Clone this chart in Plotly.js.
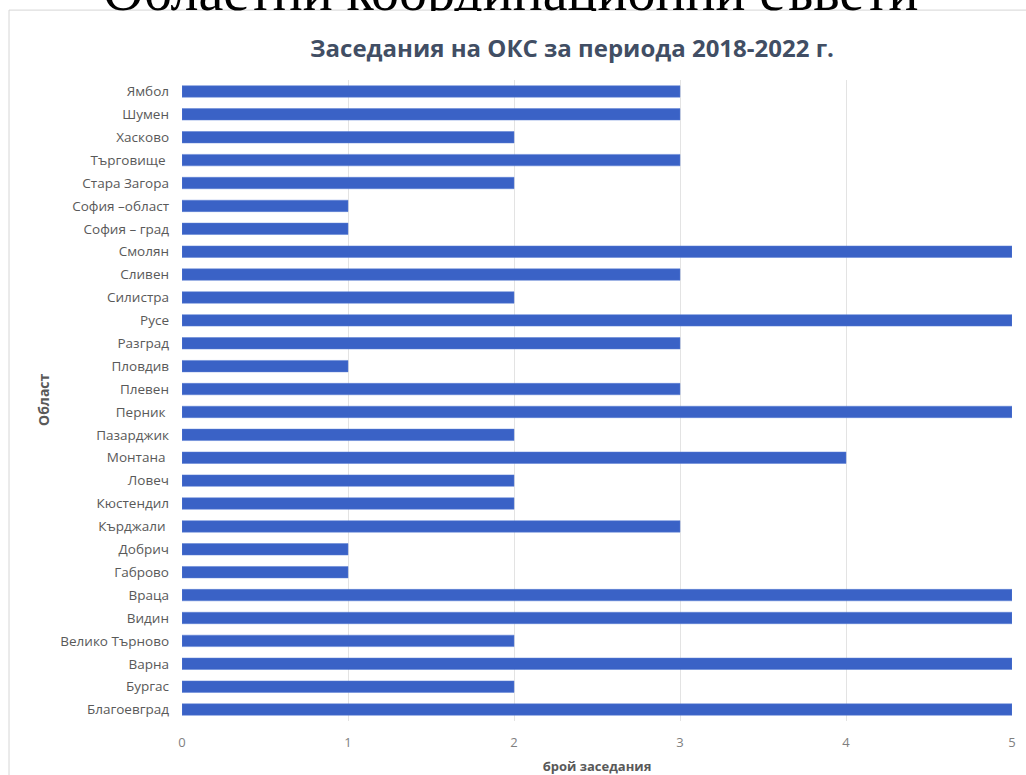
<!DOCTYPE html>
<html>
<head>
<meta charset="utf-8">
<script src="https://cdn.plot.ly/plotly-3.0.1.min.js"></script>
<style>
  html, body { margin: 0; padding: 0; background: #ffffff; }
  #chart { width: 1026px; height: 775px; }
</style>
</head>
<body>
<div id="chart"></div>
<script>
// Categories listed bottom to top (as plotted on the category axis)
const regions = [
  'Благоевград', 'Бургас', 'Варна', 'Велико Търново', 'Видин', 'Враца',
  'Габрово', 'Добрич', 'Кърджали ', 'Кюстендил', 'Ловеч', 'Монтана ',
  'Пазарджик', 'Перник ', 'Плевен', 'Пловдив', 'Разград', 'Русе',
  'Силистра', 'Сливен', 'Смолян', 'София – град', 'София –област',
  'Стара Загора', 'Търговище ', 'Хасково', 'Шумен', 'Ямбол'
];
const meetings = [
  5, 2, 5, 2, 5, 5,
  1, 1, 3, 2, 2, 4,
  2, 5, 3, 1, 3, 5,
  2, 3, 5, 1, 1,
  2, 3, 2, 3, 3
];
const xTicks = [0, 1, 2, 3, 4, 5];

const chartTitle = 'Заседания на ОКС за периода 2018-2022 г.';
const xTitle = 'брой заседания';
const yTitle = 'Област';
const slideHeading = 'Областни координационни съвети';

const trace = {
  type: 'bar',
  orientation: 'h',
  y: regions,
  x: meetings,
  width: 0.5,
  marker: { color: '#3a62c6', line: { color: '#5a7fd4', width: 0.5 } },
  hoverinfo: 'x+y'
};

const layout = {
  width: 1026,
  height: 775,
  paper_bgcolor: '#ffffff',
  plot_bgcolor: '#ffffff',
  margin: { l: 182, r: 14, t: 80, b: 54 },
  showlegend: false,
  title: {
    text: '<b>' + chartTitle + '</b>',
    font: { family: 'Open Sans, sans-serif', size: 24, color: '#414e64' },
    x: 572 / 1026, xanchor: 'center', xref: 'container',
    y: 1 - 49 / 775, yanchor: 'middle', yref: 'container'
  },
  xaxis: {
    range: [0, 5],
    tickvals: xTicks,
    ticktext: xTicks.map(String),
    showgrid: true,
    gridcolor: '#e3e3e3',
    gridwidth: 1,
    zeroline: false,
    showline: false,
    ticks: '',
    ticklabelstandoff: 12,
    tickfont: { family: 'Open Sans, sans-serif', size: 13, color: '#7f7f7f' },
    title: {
      text: '<b>' + xTitle + '</b>',
      font: { family: 'Open Sans, sans-serif', size: 13, color: '#595959' },
      standoff: 16
    },
    fixedrange: true
  },
  yaxis: {
    type: 'category',
    categoryorder: 'array',
    categoryarray: regions,
    range: [-0.5, regions.length - 0.5],
    showgrid: false,
    zeroline: false,
    showline: false,
    ticks: '',
    ticklabelstandoff: 12,
    tickfont: { family: 'Open Sans, sans-serif', size: 13.5, color: '#595959' },
    fixedrange: true
  },
  shapes: [
    {
      type: 'rect', xref: 'paper', yref: 'paper', layer: 'below',
      x0: (9 - 182) / 830, x1: 1.2,
      y0: -0.3, y1: (721.5 - 9.5) / 642,
      line: { color: '#d6d6d6', width: 1 },
      fillcolor: 'rgba(0,0,0,0)'
    }
  ],
  annotations: [
    {
      text: slideHeading,
      xref: 'paper', yref: 'paper',
      x: (511 - 182) / 830, xanchor: 'center',
      y: (721.5 + 10) / 642, yanchor: 'middle',
      showarrow: false,
      font: { family: 'Liberation Serif, Times New Roman, serif', size: 56, color: '#000000' }
    },
    {
      text: ' ',
      xref: 'paper', yref: 'paper',
      x: (518 - 182) / 830, xanchor: 'center',
      y: (721.5 - 20) / 642, yanchor: 'middle',
      width: 1016, height: 20,
      bgcolor: '#ffffff', borderpad: 0, borderwidth: 0,
      showarrow: false,
      font: { size: 10 }
    },
    {
      text: '<b>' + yTitle + '</b>',
      xref: 'paper', yref: 'paper',
      x: (43 - 182) / 830, xanchor: 'center',
      y: (721.5 - 400) / 642, yanchor: 'middle',
      textangle: -90,
      showarrow: false,
      font: { family: 'Open Sans, sans-serif', size: 14, color: '#595959' }
    }
  ]
};

Plotly.newPlot('chart', [trace], layout, { displayModeBar: false, staticPlot: true });
</script>
</body>
</html>
